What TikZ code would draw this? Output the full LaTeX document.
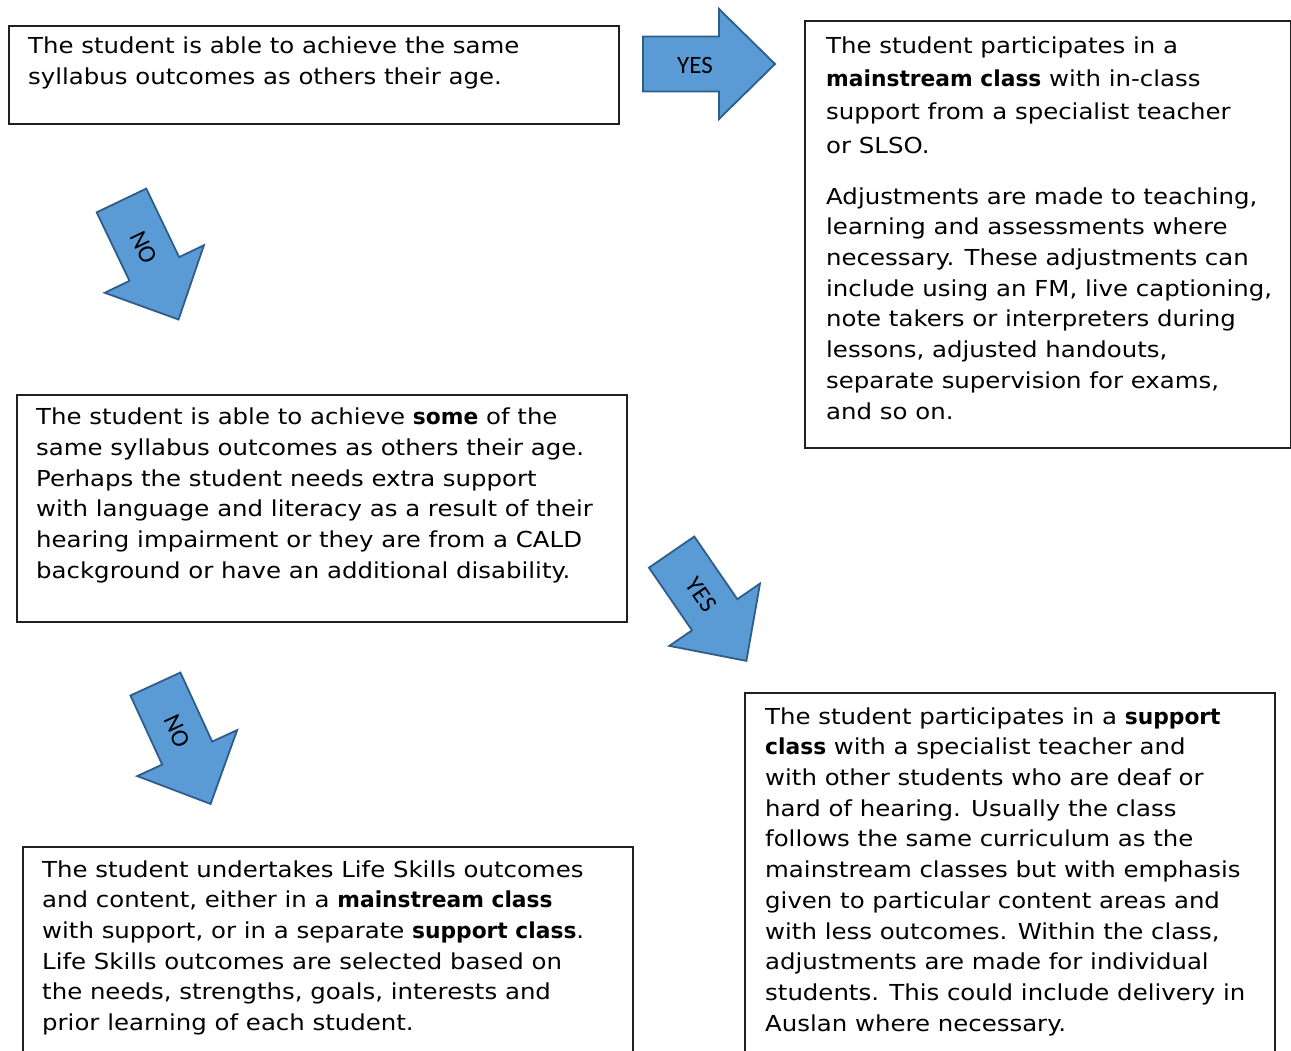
\documentclass[tikz,border=0pt]{standalone}
\usepackage{fontspec}
\setmainfont{DejaVu Sans}[FakeStretch=1.11, BoldFeatures={FakeStretch=0.99}]
\newfontfamily\lblfont{Carlito}
\usetikzlibrary{positioning,calc}
\definecolor{arrfill}{HTML}{5B9BD5}
\definecolor{arrline}{HTML}{2F5D8A}
\definecolor{boxline}{HTML}{202020}
\tikzset{
  box/.style={draw=boxline, line width=1.8pt, anchor=north west, inner sep=0pt},
  txt/.style={anchor=north west, inner sep=0pt, align=left, font=\fontsize{22}{30.7}\selectfont},
  txtwide/.style={anchor=north west, inner sep=0pt, align=left, font=\fontsize{22}{33.4}\selectfont},
  arrshape/.style={draw=arrline, fill=arrfill, line width=1.8pt, line join=miter},
  arrlbl/.style={font=\lblfont\fontsize{25}{25}\selectfont, inner sep=0pt}
}
\newcommand\bigarrow[4]{% name, x, y, angle
  \begin{scope}[shift={(#2,#3)}, rotate=#4]
    \draw[arrshape] (-66,-27.5) -- (10,-27.5) -- (10,-55) -- (66,0) -- (10,55) -- (10,27.5) -- (-66,27.5) -- cycle;
  \end{scope}
}
\begin{document}
\begin{tikzpicture}[x=1pt,y=1pt]
\clip (0,0) rectangle (1291,1050);
\fill[white] (0,0) rectangle (1291,1050);

% boxes
\node[box, minimum width=610, minimum height=98] (b1) at (8,1025) {};
\node[box, minimum width=486, minimum height=427] (b2) at (804,1030) {};
\node[box, minimum width=610, minimum height=227] (b3) at (16,656) {};
\node[box, minimum width=610, minimum height=230] (b4) at (22,204) {};
\node[box, minimum width=530, minimum height=380] (b5) at (744,358) {};

% texts
\node[txt] (t1) at (28,1018) {\strut The student is able to achieve the same\\
syllabus outcomes as others their age.};

\node[txtwide] (t2a) at (826,1020.4) {\strut The student participates in a\\
\textbf{mainstream class} with in-class\\
support from a specialist teacher\\
or SLSO.};

\node[txt] (t2b) at (826,867.5) {\strut Adjustments are made to teaching,\\
learning and assessments where\\
necessary. These adjustments can\\
include using an FM, live captioning,\\
note takers or interpreters during\\
lessons, adjusted handouts,\\
separate supervision for exams,\\
and so on.};

\node[txt] (t3) at (36,646.8) {\strut The student is able to achieve \textbf{some} of the\\
same syllabus outcomes as others their age.\\
Perhaps the student needs extra support\\
with language and literacy as a result of their\\
hearing impairment or they are from a CALD\\
background or have an additional disability.};

\node[txt] (t4) at (42,194.5) {\strut The student undertakes Life Skills outcomes\\
and content, either in a \textbf{mainstream class}\\
with support, or in a separate \textbf{support class}.\\
Life Skills outcomes are selected based on\\
the needs, strengths, goals, interests and\\
prior learning of each student.};

\node[txt] (t5) at (765,347.5) {\strut The student participates in a \textbf{support}\\
\textbf{class} with a specialist teacher and\\
with other students who are deaf or\\
hard of hearing. Usually the class\\
follows the same curriculum as the\\
mainstream classes but with emphasis\\
given to particular content areas and\\
with less outcomes. Within the class,\\
adjustments are made for individual\\
students. This could include delivery in\\
Auslan where necessary.};

% arrows
\bigarrow{a1}{709}{986}{0}
\node[arrlbl] (l1) at (695,985) {YES};
\bigarrow{a2}{150}{790}{-64.4}
\node[arrlbl, rotate=-64.4] (l2) at ($(150,790)+(-64.4:-14)$) {NO};
\bigarrow{a3}{709}{443.5}{-55.5}
\node[arrlbl, rotate=-55.5] (l3) at ($(709,443.5)+(-55.5:-14)$) {YES};
\bigarrow{a4}{183}{306}{-65.3}
\node[arrlbl, rotate=-65.3] (l4) at ($(183,306)+(-65.3:-14)$) {NO};
\end{tikzpicture}
\end{document}
